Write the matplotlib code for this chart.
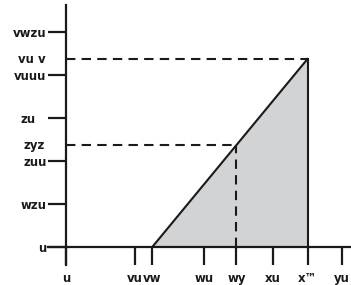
import matplotlib.pyplot as plt
from matplotlib.transforms import ScaledTranslation

# valores (rotulos mantidos como aparecem)
x_ticks = [0, 10, 12.5, 20, 24.7, 30, 35, 40]
x_labels = ['u', 'vu', 'vw', 'wu', 'wy', 'xu', 'x™', 'yu']
y_ticks = [0, 250, 500, 750, 1000, 1250]
y_labels = ['u', 'wzu', 'zuu', 'zu', 'vuuu', 'vwzu']
y_marks = [593, 1093]
y_mark_labels = ['zyz', 'vu v']

q_start = 12.5   # inicio da reta
q_end = 35       # fim da reta
p_end = 1093     # valor no fim
q_mid = 24.7
p_mid = 593

fig = plt.figure(figsize=(3.51, 2.85), dpi=100)
ax = fig.add_axes([0, 0, 1, 1])

# escala: 6.9 px por unidade em x, 0.172 px por unidade em y
ax.set_xlim(-66 / 6.9, (351 - 66) / 6.9)
ax.set_ylim(-(285 - 247) / 0.172, 247 / 0.172)

# area sombreada e reta
ax.fill([q_start, q_end, q_end], [0, p_end, 0], color='#d2d3d5', zorder=1)
ax.plot([q_start, q_end], [0, p_end], color='#1a1a1a', lw=1.5, zorder=3)
ax.plot([q_end, q_end], [0, p_end], color='#1a1a1a', lw=1.5, zorder=3)

# linhas tracejadas
dash = (0, (4.5, 3))
ax.plot([0, q_end], [p_end, p_end], color='#1a1a1a', lw=1.5, ls=dash, zorder=2)
ax.plot([0, q_mid], [p_mid, p_mid], color='#1a1a1a', lw=1.5, ls=dash, zorder=2)
ax.plot([q_mid, q_mid], [0, p_mid], color='#1a1a1a', lw=1.5, ls=dash, zorder=2)

# eixos
for s in ['top', 'right']:
    ax.spines[s].set_visible(False)
ax.spines['left'].set_position(('data', 0))
ax.spines['bottom'].set_position(('data', 0))
ax.spines['left'].set_bounds(-18 / 0.172, (247 - 5) / 0.172)
ax.spines['bottom'].set_bounds(-18 / 6.9, (351 - 66) / 6.9)
for s in ['left', 'bottom']:
    ax.spines[s].set_linewidth(1.6)
    ax.spines[s].set_color('#1a1a1a')
    ax.spines[s].set_zorder(4)

ax.set_xticks(x_ticks, x_labels)
ax.set_yticks(y_ticks, y_labels)
ax.tick_params(axis='x', direction='out', length=13, width=1.6, color='#1a1a1a', pad=5)
ax.tick_params(axis='y', direction='out', length=13, width=1.6, color='#1a1a1a', pad=1)
for lab in ax.get_xticklabels() + ax.get_yticklabels():
    lab.set_fontweight('bold')
    lab.set_fontsize(8.5)
    lab.set_color('#1a1a1a')

# rotulo 'zu' afastado do traco
for lab in ax.get_yticklabels():
    if lab.get_text() == 'zu':
        lab.set_transform(lab.get_transform() + ScaledTranslation(-8 / 72, 0, fig.dpi_scale_trans))

# rotulos das tracejadas (sem traco)
for v, t in zip(y_marks, y_mark_labels):
    ax.text(-3.0, v, t, ha='right', va='center', fontsize=8.5, fontweight='bold', color='#1a1a1a')

fig.savefig('out.png', dpi=100)
